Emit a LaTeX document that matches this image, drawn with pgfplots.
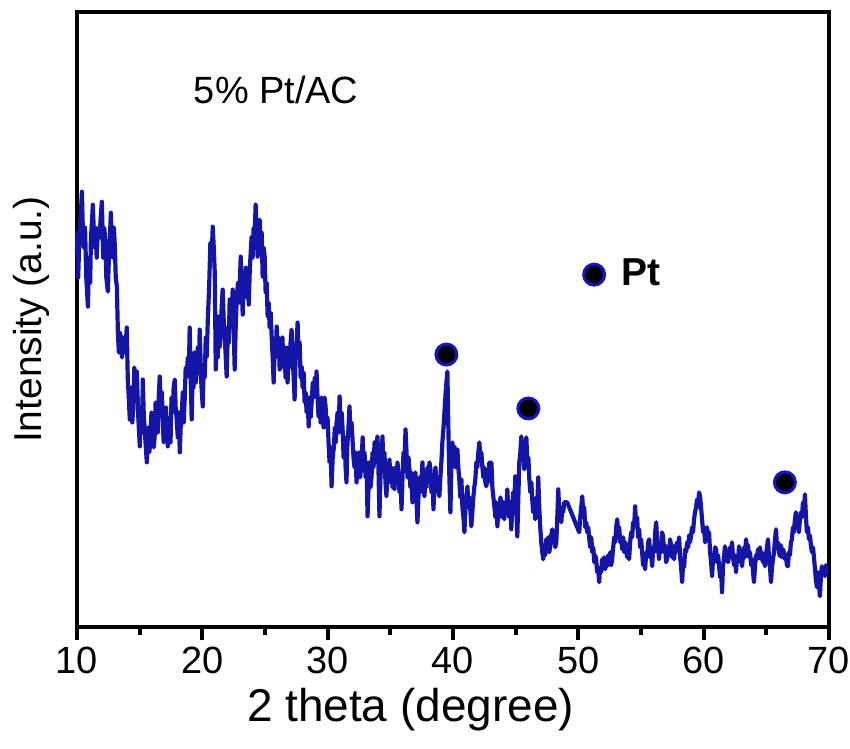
\documentclass[border=0pt]{standalone}
\usepackage{pgfplots}
\pgfplotsset{compat=1.18}
\usepackage{fontspec}
\setmainfont{Liberation Sans}
\definecolor{xrdblue}{RGB}{20,20,165}
\definecolor{ringblue}{RGB}{20,20,200}
\begin{document}
\begin{tikzpicture}
\begin{axis}[
  name=ax,
  width=753pt, height=616pt, scale only axis,
  xmin=10, xmax=70, ymin=0, ymax=616,
  axis line style={line width=3.6pt},
  xtick={10,20,30,40,50,60,70},
  minor xtick={15,25,35,45,55,65},
  ytick=\empty,
  xtick pos=left,
  tick align=outside,
  major tick length=13pt, minor tick length=8pt,
  tick style={line width=4pt, black},
  /pgf/number format/assume math mode=true,
  xticklabel style={font=\fontsize{38}{40}\selectfont, inner sep=0pt, yshift=-7pt},
  xlabel={2 theta (degree)},
  ylabel={Intensity (a.u.)},
  xlabel style={font=\fontsize{46}{48}\selectfont, at={(axis description cs:0.4436,0)}, anchor=north, inner sep=0pt, yshift=-61pt},
  ylabel style={font=\fontsize{39}{42}\selectfont, at={(axis description cs:-0.036,0.5)}, anchor=south, inner sep=0pt},
  clip=false,
]
\addplot[xrdblue, line width=4.2pt, line join=round] coordinates {
(10.00,375) (10.05,395) (10.10,350) (10.20,390) (10.30,410) (10.40,436) (10.47,400) (10.55,380) (10.65,400) (10.75,350) (10.88,321) (10.94,355) (11.00,370) (11.06,345) (11.12,390) (11.20,405) (11.27,423) (11.40,380) (11.50,400) (11.58,370) (11.67,396) (11.80,390) (11.90,410) (11.99,426) (12.10,370) (12.18,400) (12.25,390) (12.35,350) (12.47,336) (12.54,365) (12.60,380) (12.71,415) (12.78,385) (12.85,370) (12.95,400) (13.03,381) (13.10,350) (13.19,341) (13.27,295) (13.35,275) (13.43,295) (13.51,290) (13.60,270) (13.68,290) (13.75,285) (13.85,275) (13.98,300) (14.06,248) (14.14,230) (14.22,208) (14.35,240) (14.42,205) (14.50,220) (14.58,260) (14.65,250) (14.72,230) (14.78,256) (14.90,210) (15.02,181) (15.08,215) (15.15,220) (15.20,195) (15.26,248) (15.33,215) (15.40,200) (15.50,180) (15.58,165) (15.64,195) (15.70,200) (15.78,175) (15.85,185) (15.95,215) (16.06,208) (16.13,180) (16.20,190) (16.28,225) (16.35,215) (16.45,195) (16.53,230) (16.61,251) (16.70,215) (16.78,235) (16.85,208) (16.92,185) (17.00,190) (17.10,220) (17.18,200) (17.25,181) (17.32,200) (17.40,210) (17.47,185) (17.55,230) (17.65,215) (17.72,240) (17.81,248) (17.88,220) (17.95,210) (18.05,190) (18.12,215) (18.21,175) (18.28,200) (18.35,210) (18.45,235) (18.52,205) (18.61,231) (18.68,260) (18.75,250) (18.85,270) (18.93,255) (19.00,300) (19.08,250) (19.16,208) (19.23,255) (19.30,240) (19.40,275) (19.48,245) (19.56,261) (19.65,280) (19.72,255) (19.80,298) (19.90,250) (19.97,235) (20.04,221) (20.12,260) (20.20,250) (20.28,290) (20.36,271) (20.45,310) (20.55,340) (20.65,385) (20.75,370) (20.84,401) (20.92,380) (21.00,355) (21.08,258) (21.15,290) (21.23,270) (21.31,311) (21.38,280) (21.45,290) (21.55,320) (21.63,338) (21.72,305) (21.80,290) (21.88,270) (21.95,251) (22.05,300) (22.12,285) (22.19,328) (22.27,300) (22.35,315) (22.43,338) (22.51,300) (22.59,258) (22.67,300) (22.75,328) (22.85,345) (22.95,325) (23.07,371) (23.15,340) (23.23,313) (23.30,345) (23.40,330) (23.47,360) (23.55,335) (23.63,350) (23.71,323) (23.80,360) (23.87,375) (23.94,391) (24.02,370) (24.10,400) (24.18,390) (24.26,423) (24.34,395) (24.42,371) (24.50,395) (24.58,408) (24.66,380) (24.74,395) (24.82,351) (24.90,380) (24.98,371) (25.06,335) (25.14,345) (25.22,311) (25.30,325) (25.38,300) (25.46,315) (25.54,291) (25.62,270) (25.70,245) (25.78,280) (25.86,270) (25.94,301) (26.02,280) (26.10,290) (26.18,258) (26.26,275) (26.33,270) (26.40,290) (26.48,260) (26.57,271) (26.65,250) (26.73,280) (26.81,245) (26.90,275) (26.98,260) (27.05,285) (27.13,298) (27.20,265) (27.28,255) (27.37,228) (27.45,270) (27.53,285) (27.61,305) (27.69,270) (27.77,285) (27.85,250) (27.93,261) (28.01,240) (28.09,255) (28.17,225) (28.25,235) (28.33,215) (28.41,230) (28.49,201) (28.57,230) (28.65,210) (28.73,225) (28.82,245) (28.90,230) (28.98,250) (29.05,235) (29.12,256) (29.20,230) (29.28,211) (29.36,225) (29.44,205) (29.52,230) (29.60,218) (29.68,200) (29.76,230) (29.84,221) (29.92,200) (30.00,210) (30.08,185) (30.16,165) (30.24,180) (30.32,141) (30.41,170) (30.50,180) (30.58,200) (30.65,185) (30.72,205) (30.80,215) (30.88,195) (30.96,231) (31.04,205) (31.12,215) (31.20,198) (31.28,170) (31.36,190) (31.44,160) (31.51,145) (31.59,185) (31.67,200) (31.75,221) (31.83,195) (31.91,205) (31.99,188) (32.07,170) (32.15,160) (32.23,175) (32.31,145) (32.40,165) (32.50,175) (32.60,150) (32.71,165) (32.80,190) (32.88,160) (32.95,175) (33.03,150) (33.11,165) (33.19,111) (33.27,140) (33.35,165) (33.43,140) (33.51,151) (33.59,175) (33.67,160) (33.75,185) (33.83,165) (33.90,180) (33.98,191) (34.06,160) (34.14,111) (34.22,150) (34.30,170) (34.38,191) (34.46,160) (34.54,175) (34.62,145) (34.70,131) (34.78,160) (34.86,150) (34.94,168) (35.02,145) (35.10,160) (35.18,140) (35.26,155) (35.34,138) (35.42,160) (35.50,145) (35.58,165) (35.66,151) (35.74,135) (35.82,150) (35.90,118) (35.98,150) (36.06,175) (36.14,165) (36.22,198) (36.30,175) (36.38,150) (36.46,170) (36.53,158) (36.61,140) (36.69,155) (36.77,125) (36.85,150) (36.93,140) (37.01,155) (37.09,130) (37.17,105) (37.25,130) (37.33,150) (37.41,135) (37.49,145) (37.57,165) (37.65,140) (37.73,131) (37.81,150) (37.89,140) (37.97,160) (38.05,145) (38.13,165) (38.21,158) (38.29,135) (38.37,145) (38.45,118) (38.53,145) (38.61,160) (38.69,140) (38.77,150) (38.85,135) (38.92,131) (39.00,150) (39.08,165) (39.16,185) (39.24,198) (39.35,220) (39.45,240) (39.56,256) (39.64,198) (39.72,150) (39.80,115) (39.88,160) (39.96,185) (40.04,170) (40.12,181) (40.20,160) (40.28,175) (40.36,178) (40.43,160) (40.50,150) (40.59,130) (40.68,148) (40.76,120) (40.84,110) (40.92,95) (41.00,120) (41.08,130) (41.16,141) (41.24,120) (41.32,130) (41.40,115) (41.47,101) (41.55,115) (41.63,130) (41.71,140) (41.79,148) (41.87,165) (41.95,160) (42.03,175) (42.11,185) (42.19,170) (42.27,175) (42.35,161) (42.43,150) (42.51,160) (42.59,145) (42.67,141) (42.75,155) (42.83,145) (42.91,165) (42.99,150) (43.07,165) (43.15,140) (43.23,130) (43.31,121) (43.39,110) (43.47,125) (43.55,101) (43.63,120) (43.71,110) (43.79,130) (43.86,125) (43.94,110) (44.02,125) (44.10,108) (44.18,125) (44.26,115) (44.34,138) (44.42,120) (44.50,110) (44.58,125) (44.66,98) (44.74,120) (44.82,135) (44.90,125) (44.98,151) (45.06,120) (45.14,91) (45.22,130) (45.30,165) (45.38,175) (45.46,191) (45.54,170) (45.62,175) (45.70,158) (45.78,180) (45.86,190) (45.94,165) (46.02,170) (46.10,148) (46.18,135) (46.26,145) (46.33,128) (46.41,115) (46.49,125) (46.57,108) (46.65,130) (46.73,120) (46.81,150) (46.89,120) (46.97,100) (47.05,85) (47.13,75) (47.21,68) (47.29,80) (47.37,72) (47.45,88) (47.53,78) (47.61,90) (47.69,75) (47.77,81) (47.85,92) (47.93,98) (48.01,85) (48.09,95) (48.17,80) (48.25,85) (48.33,110) (48.41,138) (48.49,115) (48.57,120) (48.65,105) (48.73,120) (48.80,115) (48.88,125) (49.12,125) (50.08,95) (50.16,110) (50.24,120) (50.32,131) (50.40,115) (50.48,120) (50.56,100) (50.64,105) (50.72,95) (50.80,100) (50.88,88) (50.96,80) (51.04,90) (51.12,75) (51.20,80) (51.28,65) (51.35,72) (51.43,68) (51.51,55) (51.59,60) (51.67,45) (51.75,60) (51.83,55) (51.91,68) (51.99,60) (52.07,70) (52.15,58) (52.23,66) (52.31,61) (52.39,72) (52.47,65) (52.55,75) (52.63,62) (52.71,68) (52.79,80) (52.87,90) (52.95,85) (53.03,100) (53.11,108) (53.19,95) (53.27,100) (53.35,85) (53.43,88) (53.51,78) (53.59,90) (53.67,75) (53.75,85) (53.82,81) (53.90,70) (53.98,78) (54.06,68) (54.14,85) (54.22,95) (54.30,90) (54.38,105) (54.46,100) (54.54,121) (54.62,100) (54.70,110) (54.78,90) (54.86,98) (54.94,80) (55.02,88) (55.10,75) (55.18,62) (55.26,70) (55.34,58) (55.42,75) (55.50,70) (55.58,85) (55.66,88) (55.74,70) (55.82,75) (55.90,61) (55.98,80) (56.06,75) (56.14,95) (56.22,105) (56.30,85) (56.38,78) (56.45,68) (56.53,85) (56.61,75) (56.69,95) (56.77,91) (56.85,75) (56.93,82) (57.01,65) (57.09,68) (57.17,80) (57.25,72) (57.33,88) (57.41,81) (57.49,70) (57.57,80) (57.65,68) (57.73,82) (57.81,75) (57.89,85) (57.97,78) (58.05,90) (58.13,70) (58.21,60) (58.29,45) (58.37,65) (58.45,60) (58.53,78) (58.61,75) (58.69,85) (58.77,80) (58.85,92) (58.92,85) (59.00,91) (59.08,100) (59.16,95) (59.24,108) (59.32,115) (59.40,120) (59.48,128) (59.56,120) (59.64,135) (59.72,131) (59.80,120) (59.88,108) (59.96,95) (60.04,100) (60.12,85) (60.20,88) (60.28,100) (60.36,90) (60.44,95) (60.52,75) (60.60,65) (60.68,51) (60.76,70) (60.84,65) (60.92,80) (61.00,78) (61.08,65) (61.16,72) (61.24,61) (61.32,50) (61.40,58) (61.47,35) (61.55,60) (61.63,70) (61.71,81) (61.79,68) (61.87,75) (61.95,65) (62.03,71) (62.11,80) (62.19,72) (62.27,85) (62.35,70) (62.43,62) (62.51,72) (62.59,55) (62.67,70) (62.75,65) (62.83,81) (62.91,70) (62.99,75) (63.07,61) (63.15,72) (63.23,80) (63.31,70) (63.39,88) (63.47,78) (63.55,82) (63.63,70) (63.71,75) (63.79,62) (63.87,68) (63.95,55) (64.02,45) (64.10,60) (64.18,72) (64.26,68) (64.34,78) (64.42,70) (64.50,80) (64.58,68) (64.66,75) (64.74,65) (64.82,70) (64.90,61) (64.98,72) (65.06,80) (65.14,88) (65.22,70) (65.30,60) (65.38,45) (65.46,60) (65.54,68) (65.62,75) (65.70,88) (65.78,98) (65.86,80) (65.94,85) (66.02,75) (66.10,71) (66.18,82) (66.26,70) (66.34,78) (66.41,75) (66.49,68) (66.57,72) (66.65,62) (66.73,61) (66.81,75) (66.89,72) (66.97,85) (67.05,88) (67.13,100) (67.21,95) (67.29,108) (67.37,115) (67.45,100) (67.53,105) (67.61,95) (67.69,108) (67.77,115) (67.85,110) (67.93,125) (68.01,118) (68.09,133) (68.17,110) (68.25,95) (68.33,100) (68.41,88) (68.49,92) (68.57,81) (68.65,75) (68.73,80) (68.80,71) (68.88,60) (68.96,48) (69.04,40) (69.12,55) (69.20,45) (69.28,31) (69.36,50) (69.44,61) (69.52,52) (69.60,58) (69.68,51) (69.76,62) (69.84,55) (69.92,56)
};
\addplot[only marks, mark=*, mark size=10.5pt, mark options={fill=black, draw=ringblue, line width=3pt}] coordinates {
(39.48,273) (46.02,219) (66.49,145) (51.27,353)
};
\node[anchor=west, font=\fontsize{39}{41}\selectfont\bfseries, inner sep=0pt] at (axis cs:53.45,355) {Pt};
\node[font=\fontsize{38}{40}\selectfont, inner sep=0pt] at (axis cs:25.9,538) {5\% Pt/AC};
\end{axis}
\path ([xshift=-77pt,yshift=-121pt]ax.south west) rectangle ([xshift=20pt,yshift=12pt]ax.north east);
\end{tikzpicture}
\end{document}
